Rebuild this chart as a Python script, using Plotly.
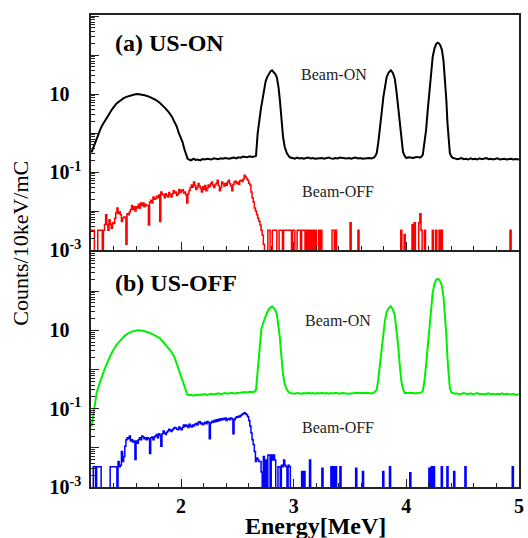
import numpy as np
import plotly.graph_objects as go

# ---------------- data ----------------
# Beam-ON spectra (energy MeV, counts/10keV/mC)
beam_on_a = [
    (1.205, .32), (1.22, .42), (1.237, .60), (1.26, .90), (1.28, 1.2), (1.30, 1.6), (1.325, 2.1),
    (1.345, 2.7), (1.368, 3.5), (1.39, 4.2), (1.427, 5.8), (1.46, 6.9), (1.49, 7.9), (1.515, 8.5),
    (1.55, 9.3), (1.585, 9.8), (1.615, 10.0), (1.65, 9.8), (1.685, 9.2), (1.72, 8.5), (1.75, 7.7),
    (1.778, 7.0), (1.81, 6.0), (1.836, 5.2), (1.865, 4.2), (1.895, 3.3), (1.92, 2.6), (1.94, 1.95),
    (1.96, 1.5), (1.98, 1.0), (2.00, .75), (2.012, .60), (2.03, .38), (2.045, .27), (2.058, .22),
    (2.07, .21), (2.09, .20), (2.11, .22), (2.13, .205), (2.15, .21), (2.17, .20), (2.19, .215),
    (2.21, .21), (2.23, .22), (2.25, .215), (2.27, .21), (2.29, .225), (2.31, .22), (2.33, .215),
    (2.35, .225), (2.37, .22), (2.39, .23), (2.41, .225), (2.43, .22), (2.45, .23), (2.47, .235),
    (2.49, .225), (2.51, .24), (2.53, .235), (2.55, .25), (2.57, .245), (2.59, .24), (2.61, .255),
    (2.63, .245), (2.65, .25),
    (2.665, .26), (2.68, 1.0), (2.695, 2.5), (2.71, 4.5), (2.72, 6.5), (2.737, 15), (2.75, 21),
    (2.763, 27), (2.78, 34), (2.795, 39), (2.807, 41), (2.82, 38), (2.835, 33), (2.85, 27),
    (2.865, 15), (2.877, 7.0), (2.887, 3.0), (2.895, 1.4), (2.905, .80), (2.92, .44), (2.94, .30),
    (2.965, .24),
    (2.99, .23), (3.01, .22), (3.03, .235), (3.05, .225), (3.07, .23), (3.09, .22), (3.11, .23),
    (3.13, .235), (3.15, .225), (3.17, .23), (3.19, .22), (3.21, .225), (3.23, .235), (3.25, .23),
    (3.27, .22), (3.29, .225), (3.31, .235), (3.33, .225), (3.35, .22), (3.37, .23), (3.39, .225),
    (3.41, .235), (3.43, .23), (3.45, .22), (3.47, .225), (3.49, .23), (3.51, .22), (3.53, .23),
    (3.55, .235), (3.57, .225), (3.59, .23), (3.61, .22), (3.63, .225), (3.65, .235), (3.67, .23),
    (3.69, .225), (3.71, .235), (3.725, .26),
    (3.737, .31), (3.75, .55), (3.766, 1.2), (3.78, 3.2), (3.796, 8.5), (3.81, 17), (3.825, 27.5),
    (3.843, 36), (3.862, 41), (3.88, 35), (3.897, 25), (3.912, 12), (3.927, 4.7), (3.94, 1.6),
    (3.956, .55), (3.97, .33), (3.985, .26),
    (4.00, .23), (4.02, .24), (4.04, .235), (4.06, .23), (4.08, .24), (4.10, .245), (4.12, .235),
    (4.135, .25),
    (4.146, .28), (4.16, .50), (4.175, 1.2), (4.19, 4.0), (4.205, 12.6), (4.22, 40), (4.234, 91),
    (4.25, 150), (4.265, 195), (4.278, 209), (4.29, 200), (4.303, 175), (4.316, 135), (4.33, 70),
    (4.345, 23), (4.355, 7.0), (4.365, 1.8), (4.375, .70), (4.386, .31), (4.40, .25), (4.415, .23),
    (4.43, .225), (4.45, .215), (4.47, .22), (4.49, .23), (4.51, .215), (4.53, .22), (4.55, .21),
    (4.57, .225), (4.59, .215), (4.61, .22), (4.63, .21), (4.65, .225), (4.67, .215), (4.69, .22),
    (4.71, .23), (4.73, .215), (4.75, .22), (4.77, .21), (4.79, .22), (4.81, .225), (4.83, .21),
    (4.85, .215), (4.87, .22), (4.89, .21), (4.91, .215), (4.93, .22), (4.95, .21), (4.97, .215),
    (5.00, .21),
]

beam_on_b = [
    (1.205, .035), (1.215, .055), (1.225, .09), (1.237, .17), (1.25, .25), (1.266, .36), (1.28, .50),
    (1.296, .65), (1.32, 1.0), (1.339, 1.4), (1.37, 2.2), (1.397, 3.1), (1.425, 4.2), (1.456, 5.3),
    (1.49, 6.8), (1.529, 8.3), (1.57, 9.4), (1.617, 10.0), (1.66, 9.7), (1.72, 8.7), (1.76, 7.7),
    (1.807, 6.4), (1.84, 5.1), (1.88, 3.8), (1.91, 2.9), (1.94, 2.1), (1.96, 1.45), (1.98, .95),
    (2.00, .65), (2.026, .40), (2.04, .30), (2.055, .23),
    (2.07, .22), (2.09, .225), (2.11, .215), (2.13, .225), (2.15, .22), (2.17, .23), (2.19, .225),
    (2.21, .235), (2.23, .225), (2.25, .23), (2.27, .24), (2.29, .23), (2.31, .235), (2.33, .245),
    (2.35, .235), (2.37, .24), (2.39, .25), (2.41, .24), (2.43, .245), (2.45, .255), (2.47, .245),
    (2.49, .25), (2.51, .26), (2.53, .255), (2.55, .26), (2.57, .265), (2.59, .26), (2.61, .27),
    (2.63, .265), (2.65, .27),
    (2.665, .30), (2.68, 1.0), (2.695, 3.0), (2.713, 11), (2.737, 18), (2.75, 23), (2.763, 28),
    (2.78, 35), (2.795, 39), (2.807, 41), (2.82, 38), (2.835, 33), (2.85, 26), (2.865, 14),
    (2.877, 6.5), (2.887, 2.8), (2.895, 1.3), (2.905, .75), (2.92, .42), (2.94, .30), (2.965, .25),
    (2.99, .245), (3.01, .24), (3.03, .25), (3.05, .245), (3.07, .24), (3.09, .25), (3.11, .245),
    (3.13, .255), (3.15, .245), (3.17, .25), (3.19, .24), (3.21, .25), (3.23, .245), (3.25, .255),
    (3.27, .245), (3.29, .25), (3.31, .24), (3.33, .25), (3.35, .245), (3.37, .255), (3.39, .25),
    (3.41, .24), (3.43, .25), (3.45, .245), (3.47, .25), (3.49, .24), (3.51, .245), (3.53, .25),
    (3.55, .245), (3.57, .255), (3.59, .25), (3.61, .245), (3.63, .25), (3.65, .255), (3.67, .25),
    (3.69, .245), (3.71, .255), (3.725, .28),
    (3.737, .30), (3.75, .55), (3.766, 1.3), (3.78, 3.6), (3.796, 9.1), (3.81, 18), (3.825, 29),
    (3.843, 37), (3.862, 41), (3.88, 34), (3.897, 24), (3.912, 11), (3.927, 4.1), (3.94, 1.4),
    (3.956, .49), (3.97, .32), (3.985, .25),
    (4.00, .25), (4.02, .245), (4.04, .25), (4.06, .255), (4.08, .245), (4.10, .25), (4.12, .255),
    (4.135, .26),
    (4.146, .28), (4.16, .50), (4.175, 1.3), (4.19, 4.3), (4.205, 13.4), (4.22, 42), (4.234, 93),
    (4.25, 152), (4.265, 195), (4.278, 205), (4.29, 198), (4.303, 172), (4.316, 135), (4.33, 70),
    (4.345, 24), (4.355, 7.5), (4.365, 1.9), (4.375, .75), (4.386, .33), (4.40, .26), (4.415, .245),
    (4.43, .24), (4.45, .245), (4.47, .235), (4.49, .24), (4.51, .25), (4.53, .24), (4.55, .235),
    (4.57, .245), (4.59, .235), (4.61, .24), (4.63, .25), (4.65, .235), (4.67, .24), (4.69, .23),
    (4.71, .24), (4.73, .245), (4.75, .235), (4.77, .24), (4.79, .23), (4.81, .24), (4.83, .235),
    (4.85, .245), (4.87, .23), (4.89, .24), (4.91, .235), (4.93, .23), (4.95, .24), (4.97, .225),
    (5.00, .235),
]

# Beam-OFF histograms: 10 keV bins from 1.20 MeV
BIN_START = 1.20
BIN_WIDTH = 0.01
N_BINS = 380

# dense part, bins 1.20 .. 2.74
beam_off_a_dense = [
    .0032, .0032, .0032, 0, 0, 0, .0032, .0032, .0032, .0032,
    0, .0032, .0045, .008, .0045, .0032, .006, .0045, .0036, .005,
    .0048, .0065, .009, .012, .0087, .0095, .008, .0054, .0065, .007,
    .0070, .0014, .0085, .008, .0095, .011, .014, .011, .013, .010,
    .013, .012, .015, .012, .016, .014, .016, .013, .015, .014,
    .014, .0044, .017, .019, .016, .023, .020, .021, .024, .022,
    .026, .0054, .031, .027, .026, .022, .028, .025, .023, .030,
    .026, .023, .028, .033, .029, .031, .025, .028, .036, .030,
    .033, .035, .029, .031, .026, .016, .028, .034, .040, .047,
    .041, .056, .045, .036, .040, .051, .044, .038, .031, .042,
    .036, .045, .033, .039, .047, .042, .050, .056, .046, .040,
    .047, .052, .062, .045, .033, .040, .056, .050, .044, .051,
    .046, .056, .062, .050, .044, .033, .048, .056, .058, .051,
    .055, .049, .060, .062, .057, .066, .083, .075, .068, .062,
    .052, .047, .031, .022, .017, .012, .010, .008, .0065, .0055,
    .0044, .0032, .0024, .0014, 0,
]
beam_off_a_sparse_E = [2.77, 2.78, 2.81, 2.82, 2.83, 2.84, 2.87, 2.88, 2.89, 2.91, 2.92, 2.93, 2.94,
                       2.95, 2.96, 2.97, 2.99, 3.00, 3.03, 3.04, 3.05, 3.07, 3.08, 3.09, 3.11, 3.13,
                       3.15, 3.17, 3.19, 3.22, 3.24, 3.34, 3.35, 3.37, 3.50, 3.57, 3.95, 3.98, 4.05,
                       4.07, 4.11, 4.12, 4.13, 4.16, 4.23, 4.26, 4.29, 4.31, 4.92]
beam_off_a_sparse_V = [.0032, .0032, .0032, .0032, .0032, .0032, .0032, .0032, .0032, .0032, .0032,
                       .0032, .0032, .0032, .0032, .0032, .0032, .0032, .0032, .0032, .0032, .0032,
                       .0032, .0032, .0032, .0032, .0032, .0032, .0032, .0032, .0032, .0032, .0032,
                       .0032, .0050, .0032, .0032, .0025, .0045, .0050, .0050, .0085, .0032, .0032,
                       .0032, .0032, .0032, .0032, .0032]

beam_off_b_dense = [
    0, 0, .0033, .0033, 0, .0033, .0033, .0033, .0033, 0,
    0, 0, 0, 0, 0, 0, 0, .0033, .0033, .0033,
    .0033, .0033, .0033, 0, .0045, .0033, .0036, .008, .0045, .006,
    .011, .016, .018, .017, .020, .015, .016, .014, .015, .0050,
    .015, .013, .016, .018, .016, .020, .019, .017, .018, .016,
    .018, .017, .0072, .018, .019, .016, .019, .020, .022, .018,
    .023, .021, .011, .023, .027, .024, .022, .025, .027, .030,
    .028, .026, .029, .031, .033, .032, .030, .029, .034, .031,
    .029, .033, .038, .035, .038, .036, .033, .040, .036, .034,
    .038, .036, .040, .042, .038, .044, .046, .041, .043, .039,
    .042, .045, .041, .047, .044, .017, .043, .048, .045, .050,
    .046, .052, .048, .054, .050, .055, .052, .056, .053, .058,
    .050, .054, .056, .052, .058, .055, .023, .052, .058, .062,
    .060, .065, .062, .068, .072, .075, .078, .074, .070, .062,
    .050, .036, .024, .016, .012, .008, .0045, .0055, .0050, .0045,
    .0045, .0024, 0, .0060, 0,
]
beam_off_b_sparse_E = [2.75, 2.77, 2.78, 2.80, 2.81, 2.82, 2.83, 2.86, 2.87, 2.89, 2.90, 2.91, 2.92,
                       2.93, 2.95, 2.96, 3.07, 3.09, 3.14, 3.25, 3.33, 3.35, 3.37, 3.41, 3.55, 3.61,
                       3.79, 3.85, 4.03, 4.20, 4.22, 4.24, 4.31, 4.36, 4.42, 4.52, 4.94]
beam_off_b_sparse_V = [.0049, .0066, .0066, .0066, .0049, .0066, .0049, .0033, .0033, .0036, .0033,
                       .0049, .0036, .0033, .0036, .0033, .0025, .0025, .0049, .0030, .0033, .0033,
                       .0033, .0033, .0030, .0025, .0025, .0033, .0023, .0030, .0033, .0033, .0033,
                       .0033, .0025, .0033, .0033]

y_tick_vals = [1e-3, 1e-2, 1e-1, 1, 10, 100, 1000]
y_tick_text = ["10<sup>-3</sup>", "", "10<sup>-1</sup>", "",
               "10<sup><span style='color:white'>-1</span></sup>", "", ""]

# ---------------- build histograms ----------------
def histogram(dense, sp_E, sp_V):
    vals = np.zeros(N_BINS)
    vals[:len(dense)] = dense
    for e, v in zip(sp_E, sp_V):
        vals[int(round((e - BIN_START) / BIN_WIDTH))] = v
    edges = BIN_START + BIN_WIDTH * np.arange(N_BINS + 1)
    y = np.append(vals, vals[-1])
    y = np.where(y > 0, y, 1e-6)  # empty bins drop below the axis floor
    return edges, y

ea, ya = histogram(beam_off_a_dense, beam_off_a_sparse_E, beam_off_a_sparse_V)
eb, yb = histogram(beam_off_b_dense, beam_off_b_sparse_E, beam_off_b_sparse_V)

FONT = "Liberation Serif"

fig = go.Figure()
fig.add_trace(go.Scatter(x=[p[0] for p in beam_on_a], y=[p[1] for p in beam_on_a], mode="lines",
                         line=dict(color="black", width=2), xaxis="x", yaxis="y"))
fig.add_trace(go.Scatter(x=ea, y=ya, mode="lines", line=dict(color="#ff0000", width=1.5, shape="hv"),
                         xaxis="x", yaxis="y"))
fig.add_trace(go.Scatter(x=[p[0] for p in beam_on_b], y=[p[1] for p in beam_on_b], mode="lines",
                         line=dict(color="#00f000", width=2), xaxis="x2", yaxis="y2"))
fig.add_trace(go.Scatter(x=eb, y=yb, mode="lines", line=dict(color="#0000ff", width=1.5, shape="hv"),
                         xaxis="x2", yaxis="y2"))

minor_y = [m * 10.0 ** e for e in range(-3, 3) for m in range(2, 10)]

xcommon = dict(range=[1.2, 5], showgrid=False, zeroline=False, showline=True, mirror=True,
               linecolor="#222", linewidth=1.5, ticks="inside", ticklen=8, tickwidth=1.2,
               tickcolor="#222", dtick=1, tick0=0,
               minor=dict(ticks="inside", ticklen=4, dtick=0.2, tick0=0, tickcolor="#222"))
ycommon = dict(type="log", showgrid=False, zeroline=False, showline=True, mirror=True,
               linecolor="#222", linewidth=1.5, ticks="inside", ticklen=8, tickwidth=1.2,
               tickcolor="#222", tickmode="array", tickvals=y_tick_vals, ticktext=y_tick_text,
               tickfont=dict(family=FONT, size=20, color="black", weight="bold"),
               ticklabelstandoff=4,
               minor=dict(ticks="inside", ticklen=4, tickmode="array", tickvals=minor_y,
                          tickcolor="#222"))

fig.update_layout(
    width=528, height=538, margin=dict(l=91, r=4, t=15, b=51),
    paper_bgcolor="white", plot_bgcolor="white", showlegend=False,
    xaxis=dict(xcommon, anchor="y", showticklabels=False),
    yaxis=dict(ycommon, domain=[0.502, 1], range=[-3, 3.03], anchor="x"),
    xaxis2=dict(xcommon, anchor="y2", matches="x",
                tickfont=dict(family=FONT, size=20, color="black", weight="bold")),
    yaxis2=dict(ycommon, domain=[0, 0.498], range=[-3, 3.0], anchor="x2"),
)

ann = [
    dict(text="<b>(a) US-ON</b>", x=1.395, y=2.31, xref="x", yref="y", xanchor="left",
         yanchor="middle", font=dict(family=FONT, size=24, color="black")),
    dict(text="<b>(b) US-OFF</b>", x=1.395, y=2.22, xref="x2", yref="y2", xanchor="left",
         yanchor="middle", font=dict(family=FONT, size=24, color="black")),
    dict(text="Beam-ON", x=3.36, y=1.51, xref="x", yref="y", font=dict(family=FONT, size=16, color="#222")),
    dict(text="Beam-OFF", x=3.39, y=-1.49, xref="x", yref="y", font=dict(family=FONT, size=16, color="#222")),
    dict(text="Beam-ON", x=3.39, y=1.25, xref="x2", yref="y2", font=dict(family=FONT, size=16, color="#222")),
    dict(text="Beam-OFF", x=3.39, y=-1.47, xref="x2", yref="y2", font=dict(family=FONT, size=16, color="#222")),
    dict(text="<b>Energy[MeV]</b>", x=0.524, y=-0.083, xref="paper", yref="paper",
         xanchor="center", yanchor="middle", font=dict(family=FONT, size=24, color="black")),
    dict(text="Counts/10keV/mC", x=-0.164, y=0.517, xref="paper", yref="paper", textangle=-90,
         xanchor="center", yanchor="middle", font=dict(family=FONT, size=22, color="black")),
]
for a in ann:
    a["showarrow"] = False
fig.update_layout(annotations=ann)

fig.write_html("out.html", config={"displayModeBar": False},
               post_script="document.body.style.margin='0';document.body.style.padding='0';"
                           "document.body.style.overflow='hidden';")
